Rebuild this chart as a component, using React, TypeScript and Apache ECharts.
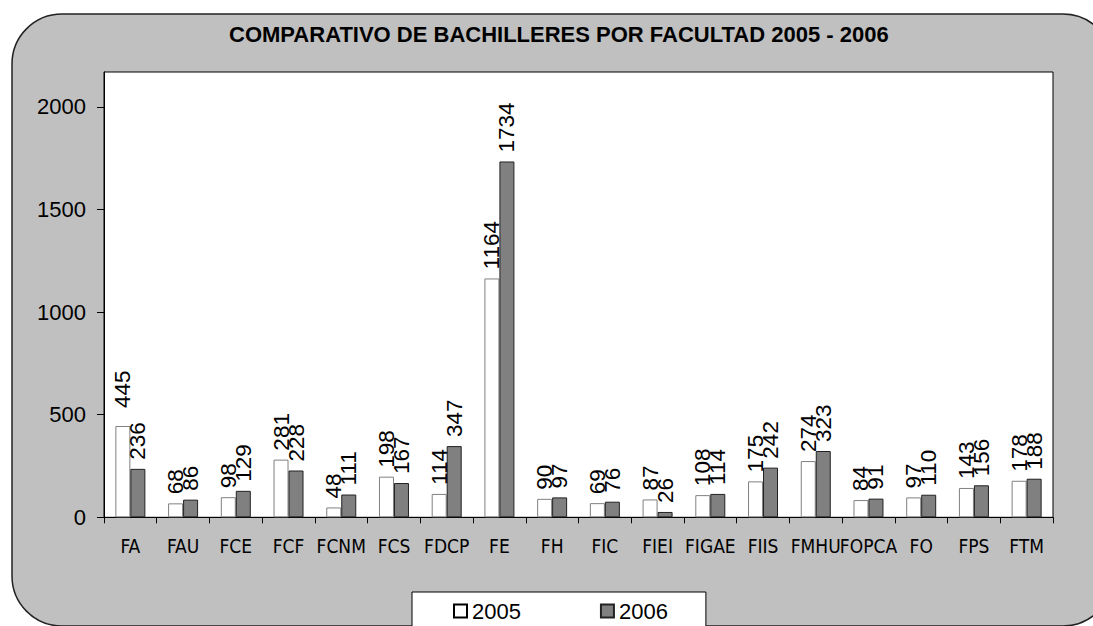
import React, { useEffect, useRef } from "react";
import * as echarts from "echarts";

const categories = ["FA", "FAU", "FCE", "FCF", "FCNM", "FCS", "FDCP", "FE", "FH", "FIC", "FIEI", "FIGAE", "FIIS", "FMHU", "FOPCA", "FO", "FPS", "FTM"];
const values2005 = [445, 68, 98, 281, 48, 198, 114, 1164, 90, 69, 87, 108, 175, 274, 84, 97, 143, 178];
const values2006 = [236, 86, 129, 228, 111, 167, 347, 1734, 97, 76, 26, 114, 242, 323, 91, 110, 156, 188];
const yTicks = [0, 500, 1000, 1500, 2000];
const seriesNames = ["2005", "2006"];
const titleText = "COMPARATIVO DE BACHILLERES POR FACULTAD 2005 - 2006";

const SANS = "'Liberation Sans', Arial, sans-serif";
const NARROW = "'Liberation Sans Narrow', 'Arial Narrow', 'DejaVu Sans Condensed', sans-serif";

export default function App() {
  const ref = useRef<HTMLDivElement>(null);
  useEffect(() => {
    document.body.style.margin = "0";
    if (!ref.current) return;
    const chart = echarts.init(ref.current, undefined, { renderer: "svg" });
    const labelBase = {
      show: true,
      position: "top",
      rotate: 90,
      align: "left",
      verticalAlign: "middle",
      distance: 9,
      color: "#000",
      fontSize: 22.5,
      fontFamily: SANS,
    };
    chart.setOption({
      animation: false,
      backgroundColor: "#ffffff",
      graphic: [
        {
          type: "rect",
          z: -10,
          silent: true,
          shape: { x: 12, y: 14, width: 1101, height: 612, r: 50 },
          style: { fill: "#C0C0C0", stroke: "#222222", lineWidth: 1.5 },
        },
      ],
      title: {
        text: titleText,
        left: 229,
        top: 23,
        padding: 0,
        textStyle: { fontSize: 22, fontWeight: "bold", fontFamily: SANS, color: "#000" },
      },
      legend: {
        data: [
          { name: seriesNames[0], itemStyle: { borderColor: "#000" } },
          { name: seriesNames[1], itemStyle: { borderColor: "#222" } },
        ],
        left: 412,
        top: 592,
        icon: "rect",
        itemWidth: 13,
        itemHeight: 13,
        itemGap: 79,
        padding: [8, 38, 14, 41],
        backgroundColor: "#ffffff",
        borderColor: "#000",
        borderWidth: 1,
        textStyle: { fontSize: 22, fontFamily: SANS, color: "#000" },
      },
      grid: {
        left: 104,
        top: 72,
        width: 949,
        height: 445.3,
        show: true,
        backgroundColor: "#ffffff",
        borderColor: "#000",
        borderWidth: 1,
        containLabel: false,
      },
      xAxis: {
        type: "category",
        data: categories,
        axisLine: { show: true, lineStyle: { color: "#000", width: 1 } },
        axisTick: { show: true, length: 6, lineStyle: { color: "#000" } },
        axisLabel: { interval: 0, margin: 19, fontSize: 19, fontFamily: NARROW, color: "#000" },
        splitLine: { show: false },
      },
      yAxis: {
        type: "value",
        min: 0,
        max: 2170,
        interval: 500,
        axisLine: { show: true, lineStyle: { color: "#000", width: 1 } },
        axisTick: { show: true, length: 7, lineStyle: { color: "#000" }, customValues: yTicks },
        axisLabel: {
          margin: 18,
          fontSize: 22,
          fontFamily: SANS,
          color: "#000",
          customValues: yTicks,
          formatter: (v: number) => String(v),
        },
        splitLine: { show: false },
      },
      series: [
        {
          name: seriesNames[0],
          type: "bar",
          barWidth: 15,
          barGap: "0%",
          data: values2005.map((v, i) => (i === 0 ? { value: v, label: { distance: 18 } } : v)),
          itemStyle: { color: "#ffffff", borderColor: "#808080", borderWidth: 1 },
          label: labelBase,
        },
        {
          name: seriesNames[1],
          type: "bar",
          barWidth: 15,
          barGap: "0%",
          data: values2006,
          itemStyle: { color: "#808080", borderColor: "#222222", borderWidth: 1 },
          label: labelBase,
        },
      ],
    });
    return () => chart.dispose();
  }, []);
  return <div ref={ref} style={{ width: 1093, height: 626 }} />;
}
